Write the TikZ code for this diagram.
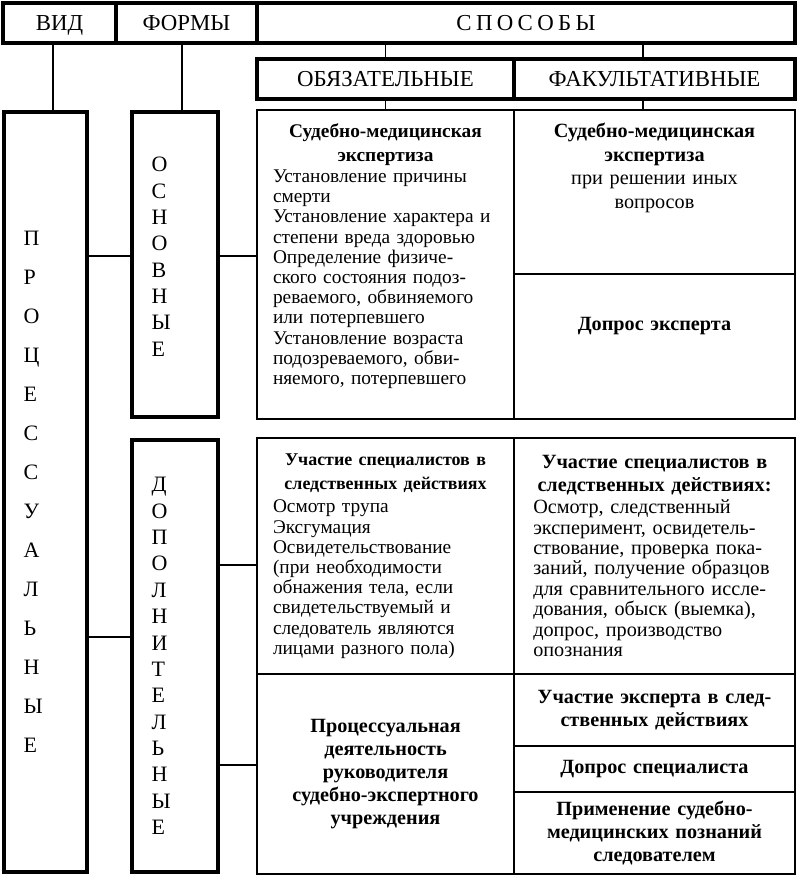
\documentclass[tikz,border=0pt]{standalone}
\usepackage{fontspec}
\setmainfont{Liberation Serif}
\usetikzlibrary{positioning, calc}

% centred bold line inside a left-aligned cell
\newcommand{\bhd}[2][11]{\hspace*{\fill}{\fontsize{#1}{11.5}\selectfont\bfseries #2}\hspace*{\fill}\null}
\newcommand{\gap}{\hspace{0.19em}}

\begin{document}
\begin{tikzpicture}[
	  font=\fontsize{13}{15}\selectfont,
	  outer sep=0pt,
	  node distance=0mm,
	  headbox/.style={
	    draw,
	    line width=2.3pt,
	    inner sep=0pt,
	    text height=8.6pt,
	    text depth=0pt,
	    minimum height=0.8cm
	  },
	  vertbox/.style={
	    draw,
	    line width=2.3pt,
	    inner ysep=0pt,
	    inner xsep=0.39cm,
	    align=left,
	    anchor=north west,
	    font=\fontsize{12.5}{15}\selectfont
	  },
	  cellbox/.style={
	    draw,
	    line width=1.1pt,
	    inner sep=0pt,
	    align=left,
	    text width=4.5cm,
	    minimum width=5.14cm,
	    font=\fontsize{11}{11.5}\selectfont
	  },
	  cellboxF/.style={cellbox,text width=4.85cm,minimum width=5.62cm,font=\fontsize{11.5}{11.6}\selectfont},
	  boldcell/.style={align=center,font=\fontsize{11.5}{13.2}\selectfont\bfseries},
	  link/.style={line width=1.1pt}
	]
	\useasboundingbox (0,0) rectangle (16,-17.52);
	
	% header row
	\node[headbox,minimum width=2.26cm,anchor=north west] (vid) at (0.06,-0.06) {ВИД};
	\node[headbox,minimum width=2.82cm,right=of vid] (formy) {ФОРМЫ};
	\node[headbox,minimum width=10.76cm,right=of formy] (sposoby) {С\gap П\gap О\gap С\gap О\gap Б\gap Ы};
	\node[headbox,minimum width=5.14cm,below=0.32cm of sposoby.south west,anchor=north west] (obyaz) {ОБЯЗАТЕЛЬНЫЕ};
	\node[headbox,minimum width=5.62cm,right=of obyaz] (fakult) {ФАКУЛЬТАТИВНЫЕ};
	
	% vertical boxes
	\node[vertbox,text width=0.88cm,minimum height=15.2cm,font=\fontsize{12.5}{22.2}\selectfont] (proc) at (0.08,-2.24)
	  {П\\Р\\О\\Ц\\Е\\С\\С\\У\\А\\Л\\Ь\\Н\\Ы\\Е};
	\node[vertbox,text width=0.94cm,minimum height=6.1cm,text depth=4.0cm] (osn) at (2.64,-2.24)
	  {О\\С\\Н\\О\\В\\Н\\Ы\\Е};
	\node[vertbox,text width=0.94cm,minimum height=8.64cm] (dop) at (2.64,-8.8)
	  {Д\\О\\П\\О\\Л\\Н\\И\\Т\\Е\\Л\\Ь\\Н\\Ы\\Е};
	
	% upper block
	\node[cellbox,minimum height=6.18cm,text depth=5.35cm,below=0.22cm of obyaz.south west,anchor=north west] (sme) {%
	  \bhd{Судебно-медицинская}\\[2pt]
	  \bhd{экспертиза}\\[0.5pt]
	  Установление причины\\
	  смерти\\
	  Установление характера и\\
	  степени вреда здоровью\\
	  Определение физиче-\\
	  ского состояния подоз-\\
	  реваемого, обвиняемого\\
	  или потерпевшего\\
	  Установление возраста\\
	  подозреваемого, обви-\\
	  няемого, потерпевшего};
	\node[cellboxF,align=center,font=\fontsize{11.5}{13.3}\selectfont,minimum height=3.28cm,text depth=2.45cm,right=of sme.north east,anchor=north west] (smeF)
	  {\textbf{Судебно-медицинская}\\\textbf{экспертиза}\\при решении иных\\вопросов};
	\node[cellboxF,boldcell,minimum height=2.9cm,text depth=0.9cm,below=of smeF] (dopexp) {Допрос эксперта};
	
	% lower block
	\node[cellbox,minimum height=4.72cm,below=0.38cm of sme.south west,anchor=north west] (uchspec) {%
	  \bhd[10.2]{Участие специалистов в}\\[2pt]
	  \bhd[10.2]{следственных действиях}\\[2pt]
	  Осмотр трупа\\
	  Эксгумация\\
	  Освидетельствование\\
	  (при необходимости\\
	  обнажения тела, если\\
	  свидетельствуемый и\\
	  следователь являются\\
	  лицами разного пола)};
	\node[cellbox,boldcell,minimum height=4.0cm,below=of uchspec] (procdeyat)
	  {Процессуальная\\деятельность\\руководителя\\судебно-экспертного\\учреждения};
	\node[cellboxF,minimum height=4.72cm,right=of uchspec.north east,anchor=north west] (uchspecF) {%
	  \bhd[11.5]{Участие специалистов в}\\[1.5pt]
	  \bhd[11.5]{следственных действиях:}\\[1pt]
	  Осмотр, следственный\\
	  эксперимент, освидетель-\\
	  ствование, проверка пока-\\
	  заний, получение образцов\\
	  для сравнительного иссле-\\
	  дования, обыск (выемка),\\
	  допрос, производство\\
	  опознания};
	\node[cellboxF,boldcell,minimum height=1.44cm,below=of uchspecF] (uchexp) {Участие эксперта в след-\\ственных действиях};
	\node[cellboxF,boldcell,minimum height=0.92cm,below=of uchexp] (dopspec) {Допрос специалиста};
	\node[cellboxF,boldcell,minimum height=1.64cm,below=of dopspec] (primen) {Применение судебно-\\медицинских познаний\\следователем};
	
	% connectors
	\draw[link] ([xshift=-0.13cm]vid.south) -- ([xshift=-0.13cm]vid.south |- proc.north);
	\draw[link] ([xshift=-0.09cm]formy.south) -- ([xshift=-0.09cm]formy.south |- osn.north);
	\draw[link] (obyaz.north |- sposoby.south) -- (obyaz.north);
	\draw[link] ([xshift=-0.23cm]fakult.north |- sposoby.south) -- ([xshift=-0.23cm]fakult.north);
	\draw[link] (obyaz.south) -- (sme.north);
	\draw[link] ([xshift=-0.23cm]fakult.south) -- ([xshift=-0.23cm]fakult.south |- smeF.north);
	\draw[link] ([yshift=0.17cm]osn.west -| proc.east) -- ([yshift=0.17cm]osn.west);
	\draw[link] ([yshift=0.17cm]osn.east) -- ([yshift=0.17cm]osn.east -| sme.west);
	\draw[link] ([yshift=0.38cm]dop.west -| proc.east) -- ([yshift=0.38cm]dop.west);
	\draw[link] ([yshift=-0.18cm]uchspec.west -| dop.east) -- ([yshift=-0.18cm]uchspec.west);
	\draw[link] ([yshift=0.18cm]procdeyat.west -| dop.east) -- ([yshift=0.18cm]procdeyat.west);
	
	\end{tikzpicture}
\end{document}
